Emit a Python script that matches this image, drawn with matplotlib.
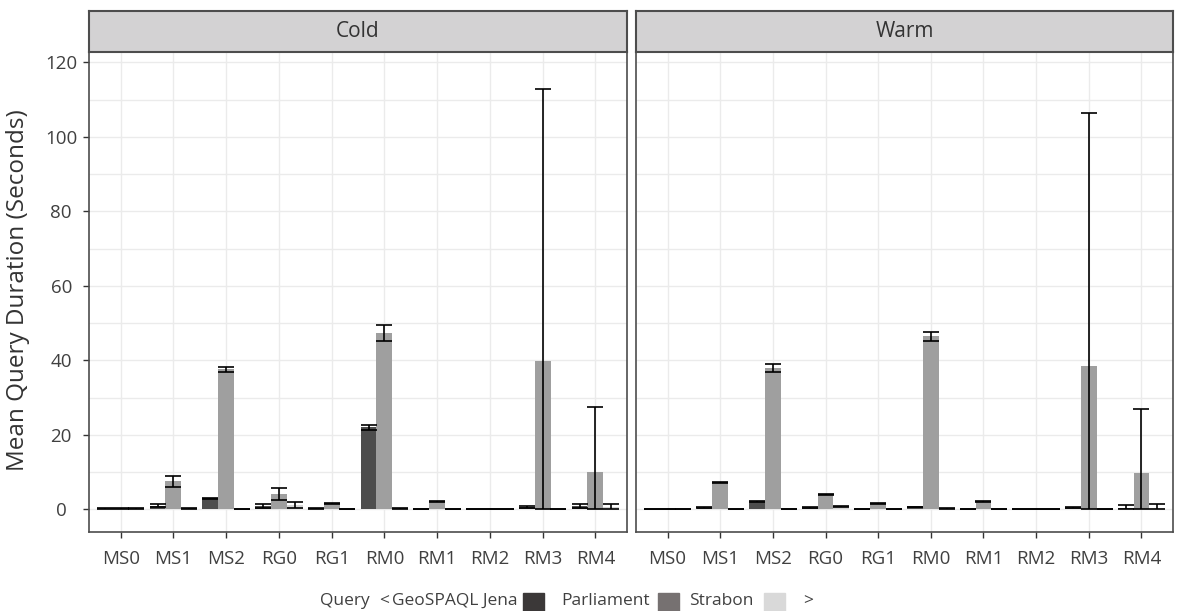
import matplotlib
matplotlib.use('Agg')
import matplotlib.pyplot as plt
from matplotlib.patches import Rectangle
from matplotlib.ticker import MultipleLocator
import numpy as np

plt.rcParams['font.family'] = ['Open Sans', 'DejaVu Sans']

# data (seconds)
queries = ['MS0', 'MS1', 'MS2', 'RG0', 'RG1', 'RM0', 'RM1', 'RM2', 'RM3', 'RM4']
systems = ['GeoSPAQL Jena', 'Parliament', 'Strabon']

cold_jena = [0.2, 1.0, 2.9, 0.8, 0.3, 22.0, 0.1, 0.05, 0.6, 0.9]
cold_jena_sd = [0.1, 0.5, 0.2, 0.5, 0.1, 0.7, 0.05, 0.05, 0.3, 0.5]
cold_parl = [0.2, 7.5, 37.6, 4.1, 1.6, 47.3, 2.0, 0.05, 39.8, 10.1]
cold_parl_sd = [0.1, 1.4, 0.7, 1.5, 0.1, 2.2, 0.1, 0.05, 73.0, 17.5]
cold_strabon = [0.2, 0.3, 0.1, 1.2, 0.1, 0.3, 0.05, 0.05, 0.05, 0.5]
cold_strabon_sd = [0.1, 0.1, 0.05, 0.8, 0.05, 0.1, 0.05, 0.05, 0.05, 0.8]

warm_jena = [0.1, 0.4, 2.0, 0.4, 0.1, 0.6, 0.05, 0.05, 0.4, 0.3]
warm_jena_sd = [0.05, 0.1, 0.1, 0.1, 0.05, 0.1, 0.05, 0.05, 0.1, 0.9]
warm_parl = [0.1, 7.2, 37.9, 4.0, 1.6, 46.5, 2.0, 0.05, 38.5, 9.8]
warm_parl_sd = [0.05, 0.2, 1.0, 0.2, 0.1, 1.2, 0.1, 0.05, 67.8, 17.2]
warm_strabon = [0.1, 0.1, 0.05, 0.7, 0.1, 0.2, 0.05, 0.05, 0.05, 0.3]
warm_strabon_sd = [0.05, 0.05, 0.05, 0.1, 0.05, 0.1, 0.05, 0.05, 0.05, 1.0]

bar_colors = ['#4d4d4d', '#9f9f9f', '#d6d6d6']
legend_colors = ['#3b3838', '#767171', '#d9d9d9']

W, H = 1184, 611
fig = plt.figure(figsize=(W / 100, H / 100), dpi=100)


def box(l, t, r, b):
    # pixel box -> figure fraction
    return [l / W, 1 - b / H, (r - l) / W, (b - t) / H]


panels = [
    ('Cold', 89, 627, [(cold_jena, cold_jena_sd), (cold_parl, cold_parl_sd), (cold_strabon, cold_strabon_sd)]),
    ('Warm', 636, 1173, [(warm_jena, warm_jena_sd), (warm_parl, warm_parl_sd), (warm_strabon, warm_strabon_sd)]),
]

x = np.arange(len(queries))
for i, (title, left, right, series) in enumerate(panels):
    ax = fig.add_axes(box(left, 52, right, 532))
    for k, (vals, sds) in enumerate(series):
        vals = np.array(vals)
        sds = np.array(sds)
        xs = x + (k - 1) * 0.3
        ax.bar(xs, vals, width=0.3, color=bar_colors[k], zorder=2)
        lo = np.maximum(0, vals - sds)
        hi = vals + sds
        ax.errorbar(xs, vals, yerr=[vals - lo, hi - vals], fmt='none', ecolor='black',
                    elinewidth=1.2, capsize=5.7, capthick=1.2, zorder=3)
    ax.set_xlim(-0.6, 9.6)
    ax.set_ylim(-6.1, 122.8)
    ax.yaxis.set_major_locator(MultipleLocator(20))
    ax.yaxis.set_minor_locator(MultipleLocator(10))
    ax.set_xticks(x)
    ax.set_xticklabels(queries)
    ax.grid(which='both', color='#ebebeb', lw=1.0)
    ax.set_axisbelow(True)
    for s in ax.spines.values():
        s.set_color('#4d4d4d')
        s.set_linewidth(1.2)
    ax.tick_params(which='minor', length=0)
    ax.tick_params(axis='x', length=4, width=1, color='#333333', pad=9,
                   labelsize=13.5, labelcolor='#404040')
    if i == 0:
        ax.tick_params(axis='y', length=4, width=1, color='#333333', pad=16,
                       labelsize=13.5, labelcolor='#404040')
        for lab in ax.get_yticklabels():
            lab.set_horizontalalignment('center')
    else:
        ax.tick_params(axis='y', length=0, labelleft=False)

    strip = fig.add_axes(box(left, 11, right, 52))
    strip.set_facecolor('#d3d2d3')
    strip.set_xticks([])
    strip.set_yticks([])
    for s in strip.spines.values():
        s.set_color('#4d4d4d')
        s.set_linewidth(1.5)
    strip.text(0.5, 0.5, title, ha='center', va='center', fontsize=15, color='#333333',
               transform=strip.transAxes)

fig.text(18 / W, 1 - 290 / H, 'Mean Query Duration (Seconds)', rotation=90,
         ha='center', va='center', fontsize=17.5, color='#333333')

# legend row, laid out by hand like the reference
ly = 1 - 601 / H
fs = 12.5
fig.text(320 / W, ly, 'Query', ha='left', va='center', fontsize=fs, color='#404040')
fig.text(379 / W, ly, '<', ha='left', va='center', fontsize=fs, color='#404040')
text_end = [518, 650, 753]
swatch_x = [523, 658, 764]
for name, tx, sx, col in zip(systems, text_end, swatch_x, legend_colors):
    fig.text(tx / W, ly, name, ha='right', va='center', fontsize=fs, color='#404040')
    fig.add_artist(Rectangle((sx / W, 1 - 611 / H), 21 / W, 18 / H, color=col,
                             transform=fig.transFigure))
fig.text(803 / W, ly, '>', ha='left', va='center', fontsize=fs, color='#404040')

fig.savefig('out.png', dpi=100)
